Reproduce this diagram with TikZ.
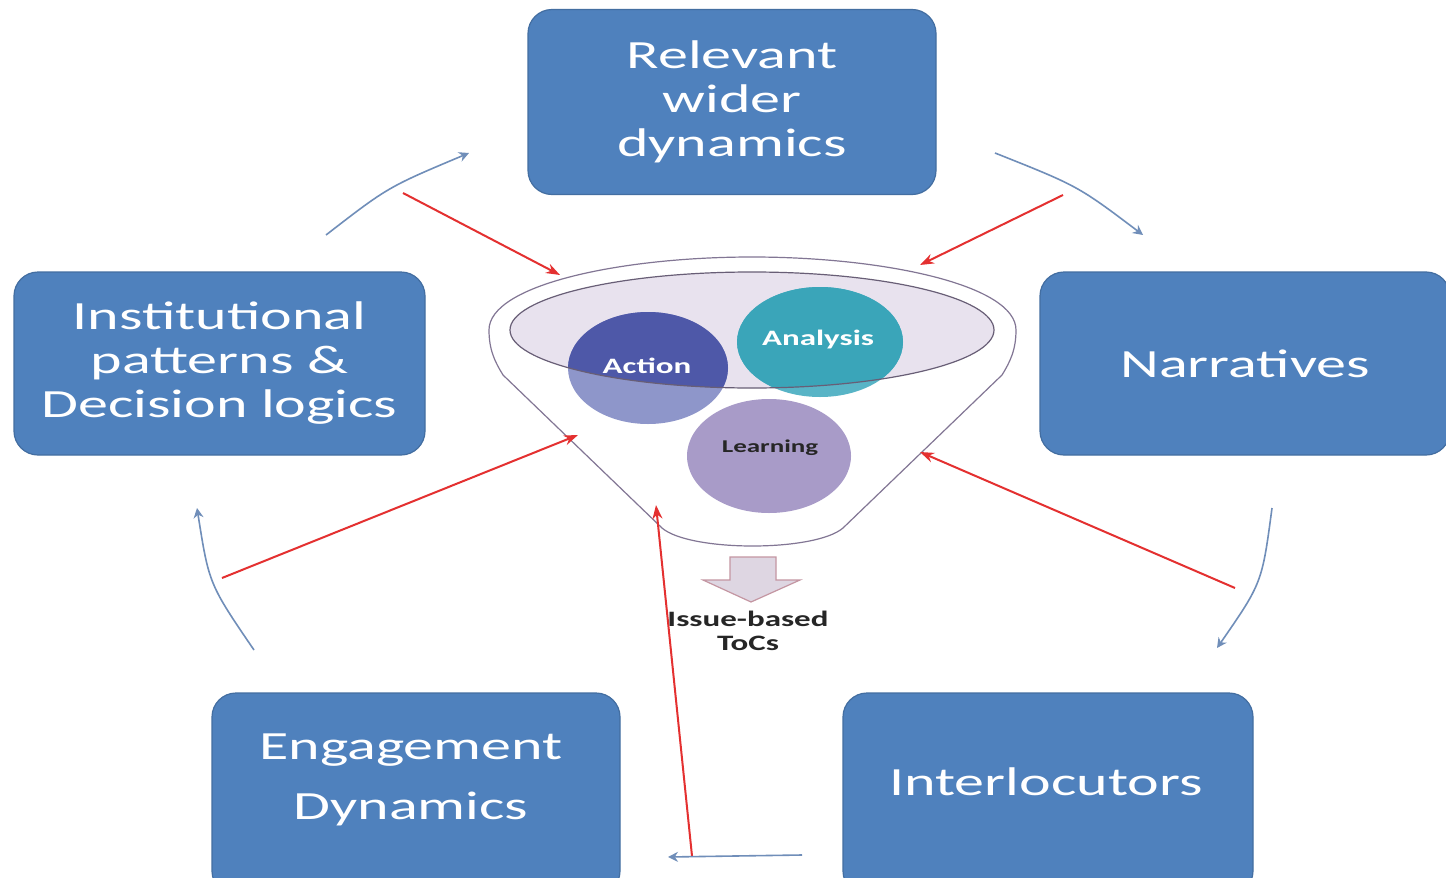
\documentclass[tikz,border=0pt]{standalone}
\usepackage{fontspec}
\setmainfont{Carlito}[FakeStretch=1.5]
\usetikzlibrary{arrows.meta,shapes.geometric}
\definecolor{boxblue}{RGB}{79,129,189}
\definecolor{redarrow}{RGB}{228,48,48}
\definecolor{bluearrow}{RGB}{112,142,185}
\definecolor{rimline}{RGB}{130,118,148}
\definecolor{rimfill}{RGB}{232,226,238}
\definecolor{actiondark}{RGB}{78,88,168}
\definecolor{actionlight}{RGB}{142,150,202}
\definecolor{analysisdark}{RGB}{58,165,185}
\definecolor{analysislight}{RGB}{88,180,198}
\definecolor{learningfill}{RGB}{168,155,200}
\definecolor{tocfill}{RGB}{222,214,226}
\definecolor{tocline}{RGB}{196,150,162}
\tikzset{
  bluebox/.style={rectangle, rounded corners=12pt, fill=boxblue, draw=boxblue!85!black,
    line width=0.6pt, text=white, align=center, font=\fontsize{20}{22}\selectfont},
  boxtext/.style={text=white, align=center},
  feed/.style={draw=redarrow, line width=1pt, -{Stealth[length=7pt,width=5pt]}},
  cycle/.style={draw=bluearrow, line width=0.8pt, -{Stealth[length=5pt,width=5pt]}},
  circtext/.style={font=\bfseries\fontsize{11}{12}\selectfont},
}
\begin{document}
\begin{tikzpicture}[x=0.5pt,y=-0.5pt]
\clip (0,0) rectangle (1446,878);
\fill[white] (0,0) rectangle (1446,878);

% outer boxes
\node[bluebox, minimum width=204pt, minimum height=92.5pt] (wider) at (732,102)
  {Relevant\\wider\\dynamics};
\node[bluebox, minimum width=205.5pt, minimum height=91.5pt] (inst) at (219.5,363.5)
  {Institutional\\patterns \&\\Decision logics};
\node[bluebox, minimum width=205pt, minimum height=91.5pt] (narr) at (1245,363.5)
  {Narratives};
\node[bluebox, minimum width=204pt, minimum height=101pt] (engage) at (416,794) {};
\node[boxtext, font=\fontsize{20}{30}\selectfont] (engagetext) at (411,780)
  {Engagement\\Dynamics};
\node[bluebox, minimum width=205pt, minimum height=101pt] (inter) at (1048,794) {};
\node[boxtext, font=\fontsize{20}{22}\selectfont] (intertext) at (1046,782) {Interlocutors};

% funnel body
\draw[rimline, fill=white, line width=0.6pt]
  (489,330) .. controls (489,350) and (495,362) .. (503,375)
  -- (662,528) .. controls (690,552) and (815,552) .. (843,528)
  -- (1002,375) .. controls (1010,362) and (1016,350) .. (1016,330)
  .. controls (1016,285) and (884,257) .. (752,257)
  .. controls (620,257) and (489,285) .. (489,330) -- cycle;
\fill[rimfill] (752,330) ellipse [x radius=242, y radius=58];

% the three circles, lighter below the rim
\fill[actionlight] (648,368) ellipse [x radius=80, y radius=56];
\fill[analysislight] (820,342) ellipse [x radius=83, y radius=55];
\fill[learningfill] (769,456) ellipse [x radius=82, y radius=57];
\begin{scope}
  \clip (752,330) ellipse [x radius=242, y radius=58];
  \fill[actiondark] (648,368) ellipse [x radius=80, y radius=56];
  \fill[analysisdark] (820,342) ellipse [x radius=83, y radius=55];
\end{scope}
\draw[rimline!80!black, line width=0.6pt] (752,330) ellipse [x radius=242, y radius=58];

\node[circtext, text=white] (action) at (647,366) {Action};
\node[circtext, text=white] (analysis) at (818,340) {Analysis};
\node[circtext, text=black!85, font=\bfseries\fontsize{9}{10}\selectfont] (learning) at (770,448) {Learning};

% output arrow of the funnel
\draw[fill=tocfill, draw=tocline, line width=0.6pt]
  (730,557) -- (776,557) -- (776,580) -- (800,580) -- (751,602) -- (703,580) -- (730,580) -- cycle;
\node[circtext, text=black!85, align=center, font=\bfseries\fontsize{11}{12}\selectfont] (tocs) at (748,631)
  {Issue-based\\ToCs};

% feed-in points on the funnel and outer ends of the red arrows
\coordinate (f1) at (560,275);
\coordinate (f2) at (920,265);
\coordinate (f3) at (578,435);
\coordinate (f4) at (920,452);
\coordinate (f5) at (656,505);
\coordinate (s1) at (403,193);
\coordinate (s2) at (1063,195);
\coordinate (s3) at (222,578);
\coordinate (s4) at (1235,588);
\coordinate (s5) at (692,856);
\draw[feed] (s1) -- (f1);
\draw[feed] (s2) -- (f2);
\draw[feed] (s3) -- (f3);
\draw[feed] (s4) -- (f4);
\draw[feed] (s5) -- (f5);

% cycle arrows between the boxes
\coordinate (c1a) at (326,235); \coordinate (c1b) at (469,153);
\coordinate (c2a) at (995,153); \coordinate (c2b) at (1143,235);
\coordinate (c3a) at (1272,508); \coordinate (c3b) at (1217,648);
\coordinate (c4a) at (802,855); \coordinate (c4b) at (668,857);
\coordinate (c5a) at (254,650); \coordinate (c5b) at (197,508);
\draw[cycle] (c1a) .. controls (388,187) .. (c1b);
\draw[cycle] (c2a) .. controls (1078,186) .. (c2b);
\draw[cycle] (c3a) .. controls (1262,583) .. (c3b);
\draw[cycle] (c4a) -- (c4b);
\draw[cycle] (c5a) .. controls (209,584) .. (c5b);
\end{tikzpicture}
\end{document}
